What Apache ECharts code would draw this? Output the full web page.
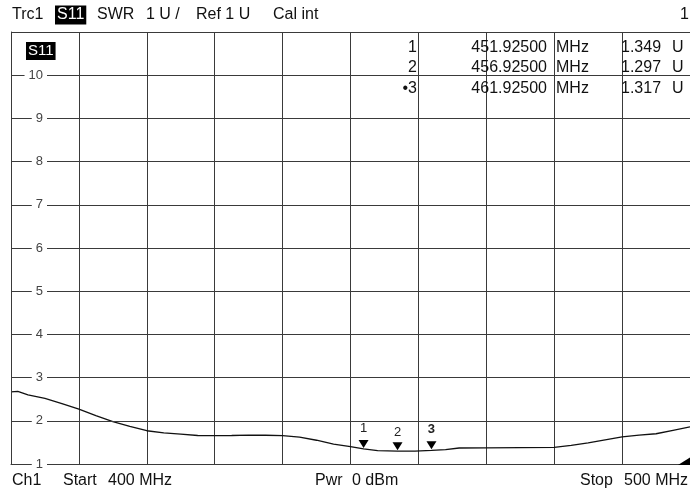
<!DOCTYPE html>
<html>
<head>
<meta charset="utf-8">
<script src="https://cdn.jsdelivr.net/npm/echarts@6/dist/echarts.min.js"></script>
<style>html,body{margin:0;padding:0;background:#fff}#c{width:690px;height:492px}</style>
</head>
<body>
<div id="c"></div>
<script>
// ---- data ----
var freqMHz = [400, 401, 402.5, 405, 407.5, 410, 412.5, 415, 417.5, 420, 422.5, 425, 427.5, 430, 432.5, 435, 437.5, 440, 442.5, 445, 447.5, 450, 451.925, 454, 456.925, 459.5, 461.925, 464, 466, 470, 475, 480, 482.5, 485, 487.5, 490, 492.5, 495, 497.5, 500];
var swr = [2.67, 2.68, 2.60, 2.52, 2.40, 2.27, 2.12, 1.98, 1.87, 1.77, 1.72, 1.69, 1.66, 1.655, 1.66, 1.67, 1.665, 1.655, 1.62, 1.55, 1.46, 1.40, 1.349, 1.31, 1.297, 1.30, 1.317, 1.335, 1.37, 1.375, 1.38, 1.385, 1.43, 1.49, 1.56, 1.63, 1.67, 1.70, 1.78, 1.86];
var markerIds = ['1', '2', '3'];
var markerFreq = [451.925, 456.925, 461.925];
var markerSwr = [1.349, 1.297, 1.317];
var yTicks = [1, 2, 3, 4, 5, 6, 7, 8, 9, 10];

var FONT = '"Liberation Sans", Arial, sans-serif';
var GRID = '#3a3a3a';

var chart = echarts.init(document.getElementById('c'));

var lineData = freqMHz.map(function (f, i) { return [f, swr[i]]; });
var mpData = markerIds.map(function (id, i) {
  var active = i === markerIds.length - 1;
  return {
    name: id,
    coord: [markerFreq[i], markerSwr[i]],
    label: { fontWeight: active ? 'bold' : 'normal', distance: i === 1 ? 3 : 5 }
  };
});

var graphics = [];
function txt(x, y, s, opt) {
  opt = opt || {};
  graphics.push({
    type: 'text', x: x, y: y, silent: true, z: 100,
    style: Object.assign({ text: s, font: (opt.weight || 'normal') + ' ' + (opt.size || 16) + 'px ' + FONT,
      fill: opt.color || '#111', textAlign: opt.align || 'left', textVerticalAlign: 'middle' },
      opt.bg ? { backgroundColor: opt.bg, padding: opt.pad || [1, 2, 0, 2] } : {})
  });
}
// header
txt(12, 15, 'Trc1');
txt(55, 15, 'S11', { color: '#fff', bg: '#000', pad: [2, 2, 1, 2] });
txt(97, 15, 'SWR');
txt(146, 15, '1 U /');
txt(196, 15, 'Ref 1 U');
txt(273, 15, 'Cal int');
txt(689, 15, '1', { align: 'right' });
// trace label in plot
txt(26, 51, 'S11', { color: '#fff', bg: '#000', pad: [2, 2, 1, 2], size: 15 });
// marker table
var rowY = [48, 68, 89];
markerIds.forEach(function (id, i) {
  var active = i === markerIds.length - 1;
  txt(417, rowY[i], (active ? '\u2022' : '') + id, { align: 'right' });
  txt(547, rowY[i], markerFreq[i].toFixed(5), { align: 'right' });
  txt(556, rowY[i], 'MHz');
  txt(621, rowY[i], markerSwr[i].toFixed(3));
  txt(672, rowY[i], 'U');
});
// footer
txt(12, 481, 'Ch1');
txt(63, 481, 'Start');
txt(108, 481, '400 MHz');
txt(315, 481, 'Pwr');
txt(352, 481, '0 dBm');
txt(580, 481, 'Stop');
txt(624, 481, '500 MHz');
// off-screen marker indicator in corner
graphics.push({ type: 'polygon', silent: true, z: 100,
  shape: { points: [[678, 465], [691, 465], [691, 457]] }, style: { fill: '#000' } });

chart.setOption({
  animation: false,
  backgroundColor: '#fff',
  grid: { left: 11, right: -1, top: 32, bottom: 28, containLabel: false },
  xAxis: {
    type: 'value', min: 400, max: 500, interval: 10,
    axisLine: { show: true, onZero: false, lineStyle: { color: GRID, width: 1 } },
    axisTick: { show: false }, axisLabel: { show: false },
    splitLine: { show: true, lineStyle: { color: GRID, width: 1 } }
  },
  yAxis: {
    type: 'value', min: 1, max: 11, interval: 1,
    axisLine: { show: true, lineStyle: { color: GRID, width: 1 } },
    axisTick: { show: false },
    axisLabel: {
      show: true, inside: true, align: 'right', margin: 36, showMaxLabel: false,
      color: '#444', fontSize: 13, fontFamily: FONT,
      backgroundColor: '#fff', padding: [0, 4, 0, 4],
      formatter: function (v) { return yTicks.indexOf(v) >= 0 ? String(v) : ''; }
    },
    splitLine: { show: true, lineStyle: { color: GRID, width: 1 } },
    z: 5
  },
  series: [{
    type: 'line', data: lineData, showSymbol: false, symbol: 'none',
    lineStyle: { color: '#111', width: 1.3 }, z: 3,
    markPoint: {
      symbol: 'triangle', symbolRotate: 180, symbolSize: [10, 8], symbolOffset: [0, -5],
      itemStyle: { color: '#000' },
      label: { show: true, position: 'top', formatter: '{b}', color: '#222', fontSize: 13, fontFamily: FONT },
      data: mpData
    }
  }],
  graphic: graphics
});
</script>
</body>
</html>
